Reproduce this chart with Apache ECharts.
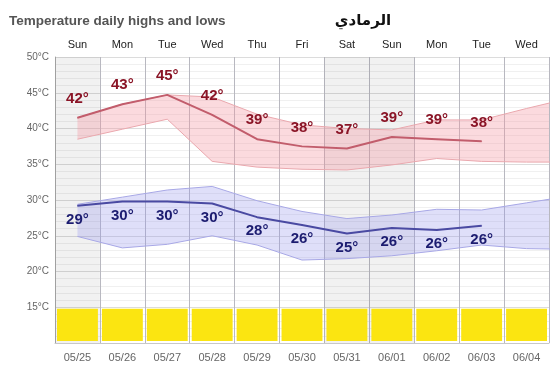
<!DOCTYPE html>
<html><head><meta charset="utf-8">
<script src="https://cdn.jsdelivr.net/npm/echarts@6/dist/echarts.min.js"></script>
<style>html,body{margin:0;padding:0;background:#fff}#c{width:550px;height:366px}</style>
</head><body><div id="c"></div>
<script>
const days = ['Sun','Mon','Tue','Wed','Thu','Fri','Sat','Sun','Mon','Tue','Wed'];
const dates = ['05/25','05/26','05/27','05/28','05/29','05/30','05/31','06/01','06/02','06/03','06/04'];
const yTicks = [10,15,20,25,30,35,40,45,50];
const highs = [41.5, 43.4, 44.7, 41.9, 38.5, 37.5, 37.2, 38.8, 38.5, 38.2];
const highLabels = [42, 43, 45, 42, 39, 38, 37, 39, 39, 38];
const lows = [29.2, 29.8, 29.8, 29.5, 27.6, 26.5, 25.3, 26.1, 25.8, 26.4];
const lowLabels = [29, 30, 30, 30, 28, 26, 25, 26, 26, 26];
// typical range bands (last value lies just past the right edge)
const highBandMax = [41.5, 43.4, 44.7, 44.4, 42.0, 40.5, 40.0, 39.8, 41.2, 41.2, 42.8, 44.3];
const highBandMin = [38.5, 39.9, 41.3, 35.4, 34.6, 34.3, 34.2, 34.9, 35.8, 35.4, 35.3, 35.3];
const lowBandMax = [29.4, 30.4, 31.4, 31.9, 29.9, 28.4, 27.4, 27.9, 28.7, 28.6, 29.6, 30.6];
const lowBandMin = [24.9, 23.3, 23.8, 25.0, 23.7, 21.6, 21.8, 22.2, 22.9, 23.7, 23.2, 23.1];

const xy = arr => arr.map((v, i) => [i + 0.5, v]);
const weekend = days.map((d, i) => (d === 'Sat' || d === 'Sun') ? i : -1).filter(i => i >= 0);

function bandSeries(upper, lower, fill) {
  return {type: 'custom', xAxisIndex: 0, z: 3, silent: true, data: [[0]],
    renderItem: (p, api) => {
      const pts = [];
      upper.forEach((v, i) => pts.push(api.coord([i + 0.5, v])));
      for (let i = lower.length - 1; i >= 0; i--) pts.push(api.coord([i + 0.5, lower[i]]));
      const cs = p.coordSys;
      return {type: 'group', children: [{type: 'polygon', shape: {points: pts},
        style: {fill: fill}}],
        clipPath: {type: 'rect', shape: {x: cs.x, y: cs.y, width: cs.width, height: cs.height}}};
    }};
}
function edge(arr, color) {
  return {type: 'line', xAxisIndex: 0, data: xy(arr), symbol: 'none', z: 4, silent: true,
    lineStyle: {color: color, width: 1}};
}

const chart = echarts.init(document.getElementById('c'), null, {renderer: 'canvas'});
const lbl = 'Liberation Sans';
chart.setOption({
  animation: false,
  title: [
    {text: 'Temperature daily highs and lows', left: 4, top: 9,
     textStyle: {fontFamily: lbl, fontSize: 13.5, fontWeight: 'bold', color: '#555'}},
    {text: 'الرمادي', left: 358, top: 9, textAlign: 'center',
     textStyle: {fontFamily: 'DejaVu Sans', fontSize: 15, fontWeight: 'bold', color: '#111'}}
  ],
  grid: {left: 55, right: 1, top: 57, bottom: 23},
  xAxis: [
    {type: 'value', min: 0, max: 11, interval: 1, position: 'bottom',
     axisLine: {show: true, lineStyle: {color: '#c8c8c8'}}, axisTick: {show: false}, axisLabel: {show: false},
     splitLine: {show: true, lineStyle: {color: '#b8b8c0', width: 1}}},
    {type: 'category', data: dates, position: 'bottom', boundaryGap: true,
     axisLine: {show: false}, axisTick: {show: false}, splitLine: {show: false},
     axisLabel: {margin: 9, fontFamily: lbl, fontSize: 11, color: '#666'}},
    {type: 'category', data: days, position: 'top', boundaryGap: true,
     axisLine: {show: false}, axisTick: {show: false}, splitLine: {show: false},
     axisLabel: {margin: 7, fontFamily: lbl, fontSize: 11, color: '#222'}}
  ],
  yAxis: {type: 'value', min: yTicks[0], max: yTicks[yTicks.length - 1], interval: 5,
    axisLine: {show: true, lineStyle: {color: '#aaa'}}, axisTick: {show: false},
    axisLabel: {margin: 6, fontFamily: lbl, fontSize: 10, color: '#666',
      formatter: v => v === yTicks[0] ? '' : v + '°C'},
    splitLine: {show: true, lineStyle: {color: '#dcdcdc'}},
    minorTick: {show: false, splitNumber: 5},
    minorSplitLine: {show: true, lineStyle: {color: '#f0f0f0'}}
  },
  series: [
    {type: 'custom', xAxisIndex: 0, z: 1, silent: true,
     data: weekend.map(i => [i]),
     renderItem: (p, api) => {
       const a = api.coord([api.value(0), 50]);
       const b = api.coord([api.value(0) + 1, 10]);
       return {type: 'rect', shape: {x: a[0], y: a[1], width: b[0] - a[0], height: b[1] - a[1]},
               style: {fill: 'rgba(0,0,0,0.055)'}};
     }},
    {type: 'custom', xAxisIndex: 0, z: 2, silent: true,
     data: dates.map((d, i) => [i]),
     renderItem: (p, api) => {
       const a = api.coord([api.value(0), 14.8]);
       const b = api.coord([api.value(0) + 1, 10]);
       return {type: 'rect', shape: {x: a[0] + 2, y: a[1], width: b[0] - a[0] - 4, height: b[1] - a[1] - 2},
               style: {fill: '#fbe511'}};
     }},
    bandSeries(highBandMax, highBandMin, 'rgba(244,150,160,0.35)'),
    bandSeries(lowBandMax, lowBandMin, 'rgba(150,150,235,0.3)'),
    edge(highBandMax, '#eaa8ae'),
    edge(highBandMin, '#eaa8ae'),
    edge(lowBandMax, '#a8a8e6'),
    edge(lowBandMin, '#a8a8e6'),
    {type: 'line', xAxisIndex: 0, data: xy(highs), z: 5, symbol: 'circle', symbolSize: 1,
     itemStyle: {color: '#c25d6c'}, lineStyle: {color: '#c25d6c', width: 2},
     label: {show: true, position: 'inside', offset: [0, -19],
       formatter: p => highLabels[p.dataIndex] + '°',
       fontFamily: lbl, fontSize: 15, fontWeight: 'bold', color: '#8a1426'}},
    {type: 'line', xAxisIndex: 0, data: xy(lows), z: 5, symbol: 'circle', symbolSize: 1,
     itemStyle: {color: '#4a4aa2'}, lineStyle: {color: '#4a4aa2', width: 2},
     label: {show: true, position: 'inside', offset: [0, 14],
       formatter: p => lowLabels[p.dataIndex] + '°',
       fontFamily: lbl, fontSize: 15, fontWeight: 'bold', color: '#1c1c70'}}
  ]
});
</script></body></html>
